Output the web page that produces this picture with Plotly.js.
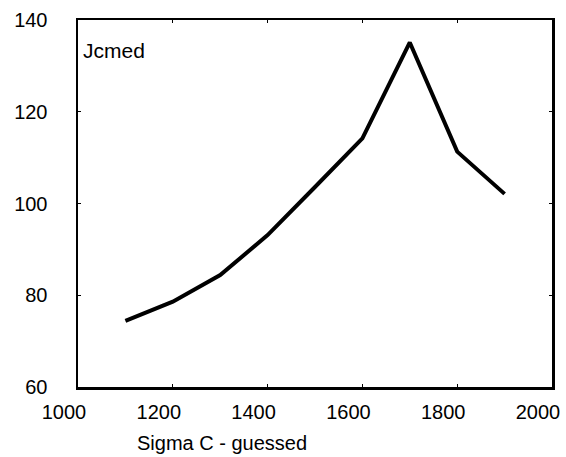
<!DOCTYPE html>
<html>
<head>
<meta charset="utf-8">
<script src="https://cdn.plot.ly/plotly-3.0.1.min.js"></script>
<style>html,body{margin:0;padding:0;background:#fff;}#chart{width:566px;height:457px;}</style>
</head>
<body>
<div id="chart"></div>
<script>
var sigmaC = [1100, 1200, 1300, 1400, 1500, 1600, 1700, 1800, 1900];
var jcmed = [74.4, 78.6, 84.4, 93.1, 103.6, 114.2, 135.1, 111.3, 102.1];
var xTickVals = [1000, 1200, 1400, 1600, 1800, 2000];
var yTickVals = [60, 80, 100, 120, 140];
var seriesName = "Jcmed";
var xTitle = "Sigma C - guessed";

var fontFam = "Liberation Sans, Arial, sans-serif";
var trace = {
  x: sigmaC, y: jcmed, type: "scatter", mode: "lines",
  line: {color: "#000", width: 4}, name: seriesName, hoverinfo: "skip"
};
var layout = {
  width: 566, height: 457,
  margin: {l: 78, r: 14, t: 20, b: 70},
  paper_bgcolor: "#fff", plot_bgcolor: "#fff",
  showlegend: false,
  font: {family: fontFam, size: 20, color: "#000"},
  xaxis: {
    range: [1000, 2000], tickvals: xTickVals, ticktext: xTickVals.map(String),
    showgrid: false, zeroline: false, showline: true, linecolor: "#000", linewidth: 2.5,
    mirror: "allticks", ticks: "inside", ticklen: 3, tickcolor: "#000", tickwidth: 1,
    ticklabelshift: -14, ticklabelstandoff: 5,
    tickfont: {family: fontFam, size: 20, color: "#000"}
  },
  yaxis: {
    range: [60, 140], tickvals: yTickVals, ticktext: yTickVals.map(String),
    showgrid: false, zeroline: false, showline: true, linecolor: "#000", linewidth: 2.5,
    mirror: "allticks", ticks: "inside", ticklen: 3, tickcolor: "#000", tickwidth: 1,
    ticklabelstandoff: 24,
    tickfont: {family: fontFam, size: 20, color: "#000"}
  },
  annotations: [
    {text: seriesName, xref: "paper", yref: "paper", x: 0.006, y: 0.918,
     xanchor: "left", yanchor: "middle", showarrow: false,
     font: {family: fontFam, size: 21, color: "#000"}},
    {text: xTitle, xref: "paper", yref: "paper", x: 0.12, y: -0.1526,
     xanchor: "left", yanchor: "middle", showarrow: false,
     font: {family: fontFam, size: 20, color: "#000"}}
  ]
};
Plotly.newPlot("chart", [trace], layout, {staticPlot: true, displayModeBar: false});
</script>
</body>
</html>
